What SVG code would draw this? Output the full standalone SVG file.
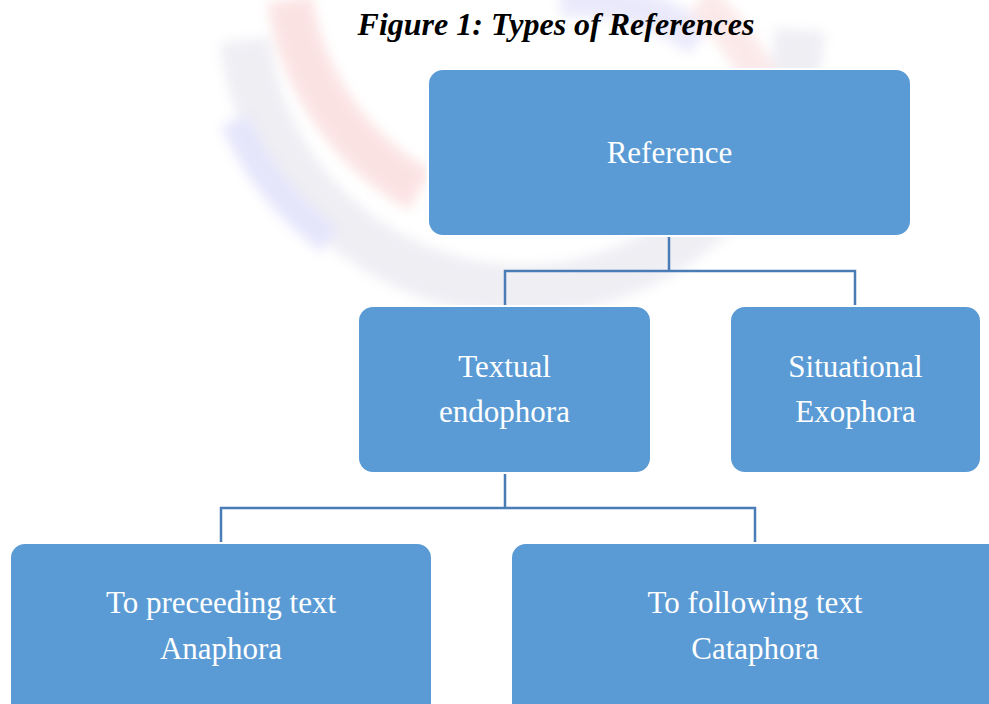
<svg xmlns="http://www.w3.org/2000/svg" width="989" height="704" viewBox="0 0 989 704">
  <style>
    .box { fill: #5B9BD5; stroke: #ffffff; stroke-width: 2; }
    .lbl { font-family: "Liberation Serif", "Times New Roman", serif; font-size: 31px; fill: #ffffff; text-anchor: middle; }
    .conn { fill: none; stroke: #4A7DB5; stroke-width: 2.5; }
    .title { font-family: "Liberation Serif", "Times New Roman", serif; font-size: 32px; font-weight: bold; font-style: italic; fill: #000000; text-anchor: middle; }
  </style>
  <defs>
    <filter id="soft" x="-10%" y="-10%" width="120%" height="120%">
      <feGaussianBlur stdDeviation="6"/>
    </filter>
  </defs>
  <rect width="989" height="704" fill="#ffffff"/>
  <g id="watermark" opacity="0.22" filter="url(#soft)">
    <path d="M 245 40 A 280 280 0 0 0 520 290 A 280 280 0 0 0 800 30" fill="none" stroke="#b8b4cc" stroke-width="50"/>
    <path d="M 290 0 A 260 260 0 0 0 420 190" fill="none" stroke="#f08080" stroke-width="45"/>
    <path d="M 235 120 A 290 290 0 0 0 330 240" fill="none" stroke="#9090f0" stroke-width="30"/>
    <path d="M 560 0 A 200 200 0 0 1 700 40" fill="none" stroke="#a0a0f0" stroke-width="35"/>
    <path d="M 700 0 A 260 260 0 0 1 760 80" fill="none" stroke="#f0a0a0" stroke-width="35"/>
  </g>
  <text class="title" x="556" y="35">Figure 1: Types of References</text>
  <g id="connectors">
    <path class="conn" d="M 669 237 V 271 M 505 306 V 271 H 855 V 306"/>
    <path class="conn" d="M 505 474 V 508 M 221 543 V 508 H 755 V 543"/>
  </g>
  <g id="reference">
    <rect class="box" x="428" y="69" width="483" height="167" rx="15"/>
    <text class="lbl" x="669.5" y="163">Reference</text>
  </g>
  <g id="textual-endophora">
    <rect class="box" x="358" y="306" width="293" height="167" rx="15"/>
    <text class="lbl" x="504.5" y="377">Textual</text>
    <text class="lbl" x="504.5" y="422">endophora</text>
  </g>
  <g id="situational-exophora">
    <rect class="box" x="730" y="306" width="251" height="167" rx="15"/>
    <text class="lbl" x="855.5" y="377">Situational</text>
    <text class="lbl" x="855.5" y="422">Exophora</text>
  </g>
  <g id="anaphora">
    <rect class="box" x="10" y="543" width="422" height="180" rx="15"/>
    <text class="lbl" x="221" y="613">To preceeding text</text>
    <text class="lbl" x="221" y="659">Anaphora</text>
  </g>
  <g id="cataphora">
    <rect class="box" x="511" y="543" width="500" height="180" rx="15"/>
    <text class="lbl" x="755" y="613">To following text</text>
    <text class="lbl" x="755" y="659">Cataphora</text>
  </g>
</svg>
